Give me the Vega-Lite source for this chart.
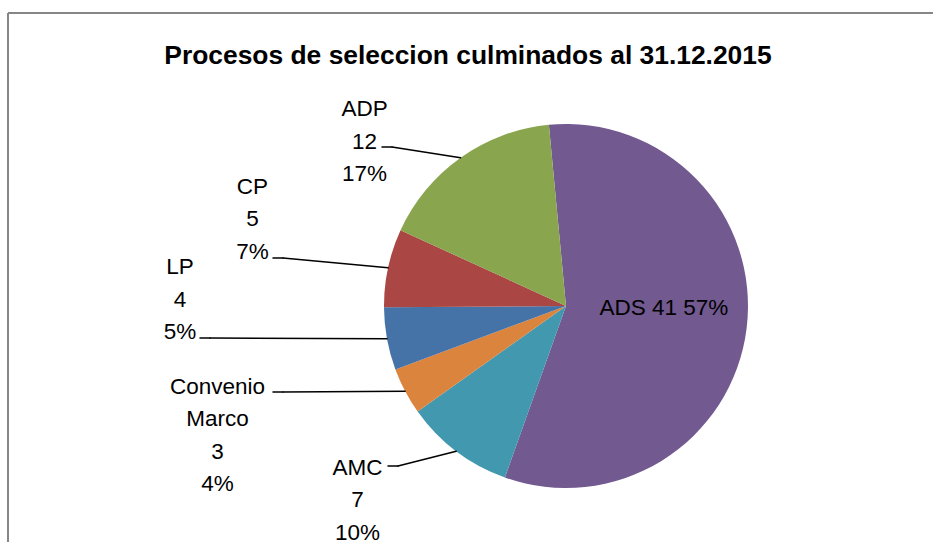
{
  "$schema": "https://vega.github.io/schema/vega-lite/v6.json",
  "width": 925,
  "height": 529,
  "autosize": "none",
  "padding": {"left": 8, "top": 13, "right": 0, "bottom": 0},
  "background": "white",
  "title": {
    "text": "Procesos de seleccion culminados al 31.12.2015",
    "font": "Liberation Sans",
    "fontSize": 26.4,
    "fontWeight": "bold",
    "color": "#000000",
    "anchor": "middle",
    "baseline": "alphabetic",
    "offset": 0,
    "dx": -2.5,
    "dy": 78
  },
  "config": {"view": {"stroke": null}},
  "data": {
    "values": [
      {"cat": "ADS", "n": 41, "pct": "57%"},
      {"cat": "AMC", "n": 7, "pct": "10%"},
      {"cat": "Convenio Marco", "n": 3, "pct": "4%"},
      {"cat": "LP", "n": 4, "pct": "5%"},
      {"cat": "CP", "n": 5, "pct": "7%"},
      {"cat": "ADP", "n": 12, "pct": "17%"}
    ]
  },
  "transform": [
    {"calculate": "indexof(['ADS','AMC','Convenio Marco','LP','CP','ADP'], datum.cat)", "as": "k"},
    {"window": [{"op": "sum", "field": "n", "as": "c1"}], "sort": [{"field": "k", "order": "ascending"}], "frame": [null, 0]},
    {"joinaggregate": [{"op": "sum", "field": "n", "as": "total"}]},
    {"calculate": "datum.c1 - datum.n", "as": "c0"},
    {"calculate": "-0.0942 + PI * (datum.c0 + datum.c1) / datum.total", "as": "mid"},
    {"calculate": "sin(datum.mid)", "as": "cx"},
    {"calculate": "cos(datum.mid)", "as": "cy"},
    {"calculate": "[0.538,-1.146,-1.915,-2.121,-1.723,-1.107][datum.k]", "as": "lx"},
    {"calculate": "[-0.011,-0.890,-0.445,0.214,0.654,1.082][datum.k]", "as": "ly"},
    {"calculate": "[0,-0.978,-1.610,-2.011,-1.610,-1.011][datum.k]", "as": "ax"},
    {"calculate": "[0,-0.879,-0.473,-0.176,0.264,0.874][datum.k]", "as": "ay"},
    {"calculate": "datum.ax + 0.055", "as": "bx"},
    {"calculate": "replace(datum.cat, ' ', '\\n') + '\\n' + datum.n + '\\n' + datum.pct", "as": "label"},
    {"calculate": "datum.cat + ' ' + datum.n + ' ' + datum.pct", "as": "label1"}
  ],
  "layer": [
    {
      "mark": {"type": "arc", "radius": 182},
      "encoding": {
        "x": {"datum": 0, "type": "quantitative", "axis": null,
              "scale": {"domain": [-3.0659, 2.0165], "nice": false, "zero": false}},
        "y": {"datum": 0, "type": "quantitative", "axis": null,
              "scale": {"domain": [-1.2967, 1.6099], "nice": false, "zero": false}},
        "theta": {"field": "n", "type": "quantitative", "stack": true, "scale": {"range": [-0.0942, 6.1890]}},
        "order": {"field": "k", "type": "quantitative", "sort": "ascending"},
        "color": {"field": "cat", "type": "nominal", "legend": null,
                  "scale": {"domain": ["ADS", "AMC", "Convenio Marco", "LP", "CP", "ADP"],
                            "range": ["#725990", "#4198AF", "#DB843D", "#4572A7", "#AA4643", "#89A54E"]}}
      }
    },
    {
      "mark": {"type": "rule", "color": "#868686", "strokeWidth": 2},
      "encoding": {
        "y": {"datum": 1.6099, "type": "quantitative", "axis": null}
      }
    },
    {
      "mark": {"type": "rule", "color": "#868686", "strokeWidth": 2},
      "encoding": {
        "x": {"datum": -3.0659, "type": "quantitative", "axis": null}
      }
    },
    {
      "transform": [{"filter": "datum.cat != 'ADS'"}],
      "mark": {"type": "rule", "color": "#000000", "strokeWidth": 1.5, "strokeCap": "round"},
      "encoding": {
        "x": {"field": "ax", "type": "quantitative", "axis": null},
        "y": {"field": "ay", "type": "quantitative", "axis": null},
        "x2": {"field": "bx"},
        "y2": {"field": "ay"}
      }
    },
    {
      "transform": [{"filter": "datum.cat != 'ADS'"}],
      "mark": {"type": "rule", "color": "#000000", "strokeWidth": 1.5, "strokeCap": "round"},
      "encoding": {
        "x": {"field": "bx", "type": "quantitative", "axis": null},
        "y": {"field": "ay", "type": "quantitative", "axis": null},
        "x2": {"field": "cx"},
        "y2": {"field": "cy"}
      }
    },
    {
      "transform": [{"filter": "datum.cat != 'ADS'"}],
      "mark": {"type": "text", "font": "Liberation Sans", "fontSize": 22.5, "color": "#000000",
               "align": "center", "baseline": "middle", "lineBreak": "\n", "lineHeight": 32.5},
      "encoding": {
        "x": {"field": "lx", "type": "quantitative", "axis": null},
        "y": {"field": "ly", "type": "quantitative", "axis": null},
        "text": {"field": "label", "type": "nominal"}
      }
    },
    {
      "transform": [{"filter": "datum.cat == 'ADS'"}],
      "mark": {"type": "text", "font": "Liberation Sans", "fontSize": 22.5, "color": "#000000",
               "align": "center", "baseline": "middle"},
      "encoding": {
        "x": {"field": "lx", "type": "quantitative", "axis": null},
        "y": {"field": "ly", "type": "quantitative", "axis": null},
        "text": {"field": "label1", "type": "nominal"}
      }
    }
  ]
}
